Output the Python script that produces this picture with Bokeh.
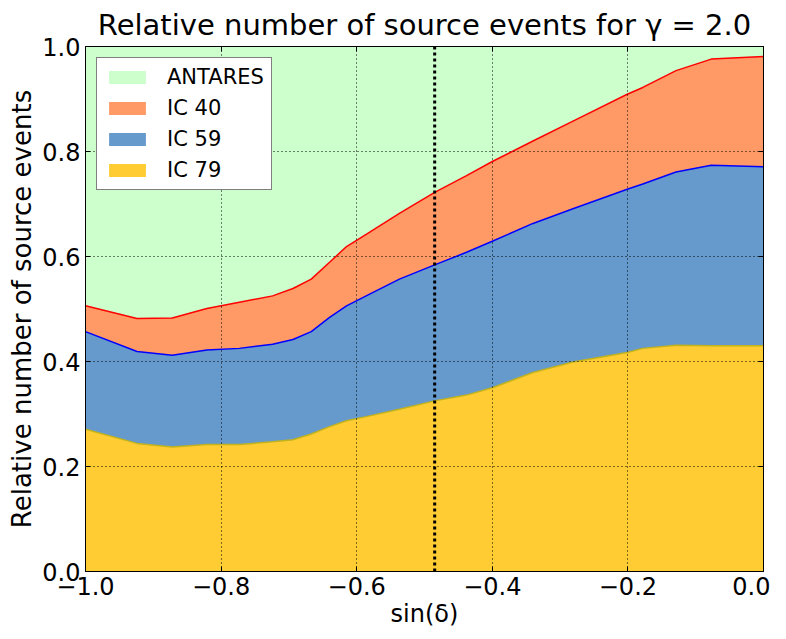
from bokeh.plotting import figure
from bokeh.models import (Range1d, FixedTicker, LinearAxis, CustomJSTickFormatter,
                          Span, Legend, LegendItem, ColumnDataSource)
from bokeh.embed import file_html
from bokeh.resources import INLINE

# ---- data ----
sin_dec = [-1.0, -0.924, -0.872, -0.821, -0.773, -0.724, -0.694, -0.667, -0.640, -0.615, -0.586,
           -0.537, -0.485, -0.438, -0.400, -0.340, -0.281, -0.201, -0.178, -0.129, -0.077, 0.0]
ic79 = [0.271, 0.244, 0.237, 0.242, 0.242, 0.247, 0.251, 0.262, 0.276, 0.287, 0.295,
        0.309, 0.325, 0.336, 0.350, 0.379, 0.399, 0.417, 0.425, 0.431, 0.430, 0.430]
ic59 = [0.186, 0.175, 0.175, 0.180, 0.183, 0.186, 0.191, 0.195, 0.208, 0.219, 0.230,
        0.248, 0.259, 0.272, 0.279, 0.284, 0.292, 0.311, 0.313, 0.330, 0.344, 0.341]
ic40 = [0.049, 0.063, 0.071, 0.079, 0.088, 0.092, 0.097, 0.100, 0.105, 0.113, 0.117,
        0.125, 0.138, 0.146, 0.152, 0.157, 0.167, 0.181, 0.184, 0.193, 0.202, 0.210]
antares = [0.494, 0.518, 0.517, 0.499, 0.487, 0.475, 0.461, 0.443, 0.411, 0.381, 0.358,
           0.318, 0.278, 0.246, 0.219, 0.180, 0.142, 0.091, 0.078, 0.046, 0.024, 0.019]
marker_sin_dec = -0.485
x_ticks = [-1.0, -0.8, -0.6, -0.4, -0.2, 0.0]
y_ticks = [0.0, 0.2, 0.4, 0.6, 0.8, 1.0]
series_names = ["IC 79", "IC 59", "IC 40", "ANTARES"]
fill_colors = ["#ffcc33", "#6699cc", "#ff9966", "#ccffcc"]
edge_colors = ["#c2b31c", "blue", "red"]

src = ColumnDataSource(dict(x=sin_dec, ic79=ic79, ic59=ic59, ic40=ic40, antares=antares))

FONT = "DejaVu Sans"

p = figure(width=770, height=631, output_backend="svg", toolbar_location=None,
           x_range=Range1d(-1, 0), y_range=Range1d(0, 1),
           min_border_left=85, min_border_right=7, min_border_top=39, min_border_bottom=60)
p.background_fill_color = "white"
p.border_fill_color = "white"
p.outline_line_color = "black"
p.outline_line_width = 1

areas = p.varea_stack(["ic79", "ic59", "ic40", "antares"], x="x", color=fill_colors, source=src)
p.vline_stack(["ic79", "ic59", "ic40"], x="x", color=edge_colors, line_width=1.5, source=src)

p.add_layout(Span(location=marker_sin_dec, dimension="height", line_color="black",
                  line_width=3, line_dash="3 3"))

# title
p.title.text = "Relative number of source events for \u03b3 = 2.0"
p.title.text_font = FONT
p.title.text_font_size = "29px"
p.title.text_font_style = "normal"
p.title.align = "center"
p.title.text_color = "black"
p.title.standoff = 10

bottom_ax = p.below[0]
left_ax = p.left[0]

bottom_ax.ticker = FixedTicker(ticks=x_ticks)
left_ax.ticker = FixedTicker(ticks=y_ticks)
bottom_ax.formatter = CustomJSTickFormatter(
    code="return (tick < -1e-9 ? '\\u2212' : '') + Math.abs(tick).toFixed(1);")
left_ax.formatter = CustomJSTickFormatter(code="return tick.toFixed(1);")
bottom_ax.axis_label = "sin(\u03b4)"
left_ax.axis_label = "Relative number of source events"

top_ax = LinearAxis(ticker=FixedTicker(ticks=x_ticks), formatter=CustomJSTickFormatter(code="return '';"))
right_ax = LinearAxis(ticker=FixedTicker(ticks=y_ticks), formatter=CustomJSTickFormatter(code="return '';"))
p.add_layout(top_ax, "above")
p.add_layout(right_ax, "right")

for ax in [bottom_ax, left_ax, top_ax, right_ax]:
    ax.major_label_text_font = FONT
    ax.major_label_text_font_size = "24px"
    ax.major_label_text_color = "black"
    ax.axis_label_text_font = FONT
    ax.axis_label_text_font_size = "24px"
    ax.axis_label_text_font_style = "normal"
    ax.axis_label_text_color = "black"
    ax.major_tick_in = 5
    ax.major_tick_out = 0
    ax.minor_tick_in = 0
    ax.minor_tick_out = 0
    ax.axis_line_color = "black"
    ax.major_tick_line_color = "black"
    ax.major_label_standoff = 5
    ax.axis_label_standoff = 2
left_ax.axis_label_text_font_size = "26px"
top_ax.major_label_standoff = 0
right_ax.major_label_standoff = 0

for g in [p.xgrid[0], p.ygrid[0]]:
    g.level = "guide"
    g.grid_line_color = "black"
    g.grid_line_dash = "1 3"
    g.grid_line_width = 1
p.xgrid.ticker = FixedTicker(ticks=x_ticks)
p.ygrid.ticker = FixedTicker(ticks=y_ticks)

legend = Legend(items=[
    LegendItem(label=series_names[3], renderers=[areas[3]]),
    LegendItem(label=series_names[2], renderers=[areas[2]]),
    LegendItem(label=series_names[1], renderers=[areas[1]]),
    LegendItem(label=series_names[0], renderers=[areas[0]]),
], location="top_left")
legend.label_text_font = FONT
legend.label_text_font_size = "21px"
legend.label_text_color = "black"
legend.glyph_width = 46
legend.glyph_height = 16
legend.label_height = 24
legend.label_standoff = 17
legend.spacing = 7
legend.padding = 7
legend.margin = 11
legend.border_line_color = "black"
legend.border_line_width = 1
legend.border_radius = 0
legend.background_fill_alpha = 1
p.add_layout(legend)

open("out.html", "w", encoding="utf-8").write(file_html(p, INLINE))
